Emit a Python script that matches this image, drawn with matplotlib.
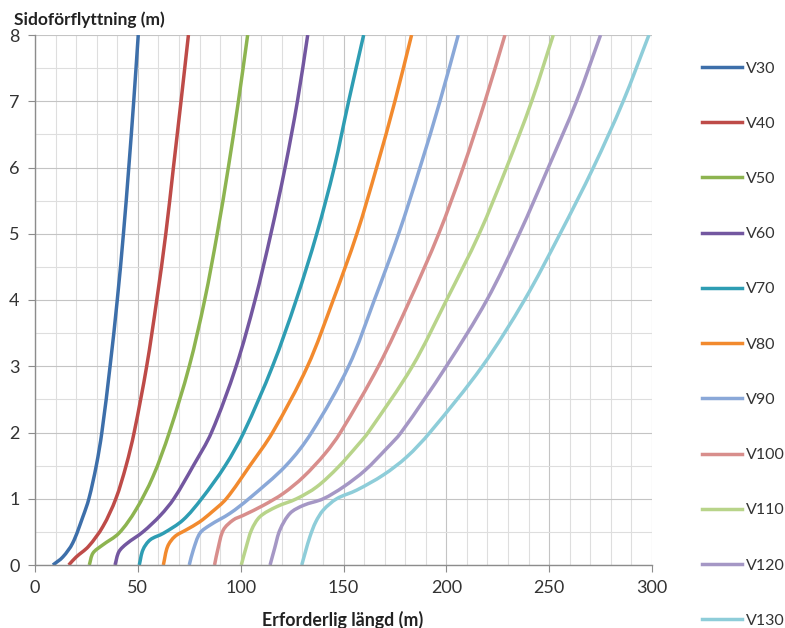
import matplotlib.pyplot as plt
from matplotlib.ticker import MultipleLocator
from matplotlib.path import Path
from matplotlib.patches import PathPatch

# läst från diagrammet: längd (m) och sidoförflyttning (m) per hastighet
v30_x = [8.7, 13.5, 18.3, 23.3, 26.2, 29.8, 32.5, 36.5, 40.0, 43.0, 45.6, 48.0, 50.2]
v30_y = [0, 0.12, 0.33, 0.73, 1.0, 1.5, 2, 3, 4, 5, 6, 7, 8]

v40_x = [16.4, 20.0, 26.0, 33.0, 39.3, 44.3, 48.2, 54.3, 59.2, 63.6, 67.3, 71.0, 74.6]
v40_y = [0, 0.12, 0.28, 0.58, 1.0, 1.5, 2, 3, 4, 5, 6, 7, 8]

v50_x = [26.4, 28.2, 32.8, 40.8, 49.0, 57.3, 65.3, 75.0, 82.5, 88.6, 94.0, 98.9, 103.4]
v50_y = [0, 0.18, 0.3, 0.48, 0.83, 1.33, 2, 3, 4, 5, 6, 7, 8]

v60_x = [38.9, 40.8, 44.5, 52.5, 61.0, 67.5, 77.0, 85.8, 97.8, 107.0, 114.7, 121.6, 127.6, 132.6]
v60_y = [0, 0.2, 0.32, 0.5, 0.75, 1.0, 1.5, 2, 3, 4, 5, 6, 7, 8]

v70_x = [50.7, 52.5, 56.0, 62.5, 72.0, 81.0, 92.5, 101.5, 115.5, 127.0, 137.0, 145.5, 152.5, 159.8]
v70_y = [0, 0.23, 0.38, 0.48, 0.68, 1.0, 1.5, 2, 3, 4, 5, 6, 7, 8]

v80_x = [62.4, 64.5, 68.0, 73.5, 80.0, 86.0, 93.0, 104.5, 115.5, 132.5, 145.0, 156.5, 166.1, 175.0, 183.1]
v80_y = [0, 0.28, 0.43, 0.53, 0.65, 0.8, 1.0, 1.5, 2, 3, 4, 5, 6, 7, 8]

v90_x = [75.0, 77.0, 80.2, 85.0, 94.8, 104.0, 122.0, 134.5, 152.5, 165.0, 176.8, 187.2, 196.9, 205.8]
v90_y = [0, 0.23, 0.48, 0.6, 0.78, 1.0, 1.5, 2, 3, 4, 5, 6, 7, 8]

v100_x = [87.3, 89.0, 91.6, 96.4, 101.3, 111.0, 120.7, 130.5, 141.0, 148.5, 167.0, 182.3, 196.3, 208.2, 218.8, 228.5]
v100_y = [0, 0.25, 0.53, 0.68, 0.75, 0.9, 1.08, 1.33, 1.68, 2, 3, 4, 5, 6, 7, 8]

v110_x = [100.3, 102.5, 105.3, 109.4, 117.5, 127.2, 137.0, 147.5, 157.5, 162.0, 183.5, 200.1, 216.0, 229.3, 241.5, 252.0]
v110_y = [0, 0.25, 0.53, 0.73, 0.88, 1.0, 1.18, 1.48, 1.83, 2, 3, 4, 5, 6, 7, 8]

v120_x = [114.3, 116.5, 119.1, 124.0, 130.5, 140.2, 150.0, 160.5, 171.0, 178.0, 200.0, 219.7, 235.5, 249.6, 263.3, 275.0]
v120_y = [0, 0.25, 0.53, 0.78, 0.9, 1.0, 1.18, 1.43, 1.76, 2, 3, 4, 5, 6, 7, 8]

v130_x = [129.7, 131.5, 133.7, 136.5, 140.2, 146.7, 156.4, 169.4, 180.7, 192.0, 217.5, 238.0, 255.3, 271.5, 286.0, 298.5]
v130_y = [0, 0.2, 0.43, 0.65, 0.83, 1.0, 1.13, 1.36, 1.63, 2, 3, 4, 5, 6, 7, 8]

labels = ['V30', 'V40', 'V50', 'V60', 'V70', 'V80', 'V90', 'V100', 'V110', 'V120', 'V130']
colors = ['#3D6FAA', '#BE4B48', '#8DB450', '#7357A0', '#2E9DB3', '#F28A2E',
          '#8AA8D8', '#D88E8C', '#B8D48A', '#A597C5', '#8ECDD9']

series = [(v30_x, v30_y), (v40_x, v40_y), (v50_x, v50_y), (v60_x, v60_y),
          (v70_x, v70_y), (v80_x, v80_y), (v90_x, v90_y), (v100_x, v100_y),
          (v110_x, v110_y), (v120_x, v120_y), (v130_x, v130_y)]

# ungefärlig skala px per enhet, bara för att jämna ut kurvorna
SX, SY = 2.057, 66.25


def smooth_path(xs, ys):
    # utjämnad linje: bezierkurvor genom punkterna, tangenter viktade med segmentlängd
    n = len(xs)
    d = [((SX * (xs[i + 1] - xs[i])) ** 2 + (SY * (ys[i + 1] - ys[i])) ** 2) ** 0.5
         for i in range(n - 1)]
    tx, ty = [], []
    for i in range(n):
        a = max(i - 1, 0)
        b = min(i + 1, n - 1)
        L = sum(d[a:b])
        tx.append((xs[b] - xs[a]) / L)
        ty.append((ys[b] - ys[a]) / L)
    verts = [(xs[0], ys[0])]
    codes = [Path.MOVETO]
    for i in range(n - 1):
        h = d[i] / 3
        verts += [(xs[i] + tx[i] * h, ys[i] + ty[i] * h),
                  (xs[i + 1] - tx[i + 1] * h, ys[i + 1] - ty[i + 1] * h),
                  (xs[i + 1], ys[i + 1])]
        codes += [Path.CURVE4] * 3
    return Path(verts, codes)


plt.rcParams['font.family'] = ['Lato', 'DejaVu Sans']

fig = plt.figure(figsize=(7.85, 6.28), dpi=100)
ax = fig.add_axes([35 / 785, 63 / 628, 617 / 785, 530 / 628])

for (xs, ys), lab, col in zip(series, labels, colors):
    ax.add_patch(PathPatch(smooth_path(xs, ys), fill=False, edgecolor=col, lw=2.5,
                           joinstyle='round', capstyle='butt'))
    ax.plot([], [], color=col, lw=2.5, label=lab)

ax.set_xlim(0, 300)
ax.set_ylim(0, 8)
ax.xaxis.set_major_locator(MultipleLocator(50))
ax.xaxis.set_minor_locator(MultipleLocator(10))
ax.yaxis.set_major_locator(MultipleLocator(1))
ax.yaxis.set_minor_locator(MultipleLocator(0.5))

# rutnät
ax.grid(which='major', color='#C4C4C4', lw=0.8)
ax.grid(which='minor', color='#DEDEDE', lw=0.8)
ax.set_axisbelow(True)

for s in ['top', 'right']:
    ax.spines[s].set_visible(False)
for s in ['left', 'bottom']:
    ax.spines[s].set_color('#8C8C8C')
    ax.spines[s].set_linewidth(1.0)

ax.tick_params(which='major', length=5, color='#8C8C8C', labelsize=13, labelcolor='#333333', pad=6)
ax.tick_params(which='minor', length=0)

fig.text(14 / 785, 1 - 20 / 628, 'Sidoförflyttning (m)', fontsize=12.5, fontweight='bold',
         color='#222222', va='center', ha='left')
fig.text(343 / 785, 1 - 620 / 628, 'Erforderlig längd (m)', fontsize=12.8, fontweight='bold',
         color='#222222', va='center', ha='center')

fig.legend(loc='upper left', bbox_to_anchor=(688 / 785, 1 - 47 / 628), frameon=False,
           fontsize=11.5, labelspacing=2.57, handlelength=2.5, handletextpad=0.2,
           labelcolor='#333333')

plt.savefig('out.png', dpi=100)
